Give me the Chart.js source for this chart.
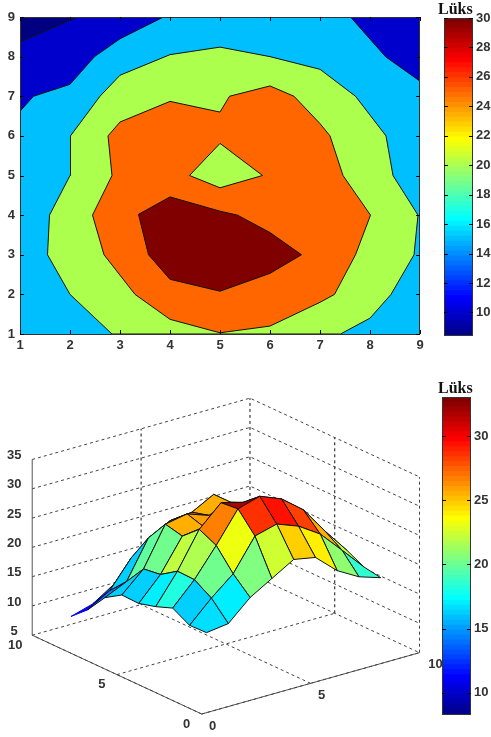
<!DOCTYPE html>
<html>
<head>
<meta charset="utf-8">
<title>Lüks</title>
<script src="https://cdn.jsdelivr.net/npm/chart.js@4"></script>
<style>
	body { margin: 0; background: #fff; }
	canvas { position: absolute; }
</style>
</head>
<body>
<canvas id="contour" width="430" height="355" style="left:0;top:0"></canvas>
<canvas id="surface" width="445" height="362" style="left:0;top:375px"></canvas>
<canvas id="contourBar" width="53" height="346" style="left:438px;top:0"></canvas>
<canvas id="surfaceBar" width="53" height="349" style="left:438px;top:376px"></canvas>
<script>
// contour bands
const fieldX = [1, 9, 9, 1]
const fieldY = [1, 1, 9, 9]
const cornerLeftX = [1, 1, 1.27, 2, 2.49, 3, 3.87]
const cornerLeftY = [9, 6.62, 7, 7.3, 8, 8.45, 9]
const cornerNavyX = [1, 1, 2, 2.15]
const cornerNavyY = [9, 8.37, 8.92, 9]
const cornerRightX = [7.61, 8.31, 9, 9]
const cornerRightY = [9, 8, 7.38, 9]
const band20X = [2.84, 2, 1.55, 1.59, 2, 2.01, 2.6, 3, 4, 5, 6, 7, 7.71, 8.32, 8.46, 8.96, 8.88, 8.42, 8, 7.41]
const band20Y = [1, 2, 3, 4, 5, 6, 7, 7.53, 8.05, 8.24, 8, 7.68, 7, 6, 5, 4, 3, 2, 1.4, 1]
const band25X = [5, 6, 7, 7.29, 7.71, 8.01, 7.46, 7.2, 7, 6.48, 6, 5.19, 5, 4, 3, 2.76, 2.84, 2.45, 2.68, 3.3, 4]
const band25Y = [1.03, 1.2, 1.8, 2, 3, 4, 5, 6, 6.31, 7, 7.26, 7, 6.6, 6.87, 6.35, 6, 5, 4, 3, 2, 1.37]
const holeX = [5, 5.85, 5, 4.39]
const holeY = [5.81, 5, 4.69, 5]
const band30X = [3.37, 4, 5, 5.35, 6, 6.63, 6, 5, 4, 3.57]
const band30Y = [4.02, 4.46, 4.1, 4, 3.56, 3, 2.53, 2.08, 2.38, 3]

// surface heights, one row per y = 1..9, x = 1..9
const luxY1 = [16.5, 17.0, 20.4, 22.6, 24.8, 24.1, 20.8, 18.7, 17.5]
const luxY2 = [16.4, 20.0, 23.1, 28.5, 29.5, 28.1, 25.7, 21.9, 18.0]
const luxY3 = [18.0, 21.8, 26.6, 31.8, 32.9, 31.4, 28.5, 23.8, 19.5]
const luxY4 = [16.9, 21.9, 28.0, 31.5, 30.5, 28.8, 26.9, 25.0, 19.7]
const luxY5 = [16.1, 20.0, 25.5, 26.0, 22.5, 25.4, 26.5, 22.2, 17.5]
const luxY6 = [16.2, 19.6, 26.2, 26.9, 25.6, 26.8, 25.7, 21.5, 17.0]
const luxY7 = [14.4, 16.1, 22.5, 24.4, 24.8, 26.8, 22.9, 18.8, 16.0]
const luxY8 = [11.0, 13.2, 17.8, 20.2, 20.7, 20.0, 18.6, 16.0, 13.0]
const luxY9 = [8.5, 9.6, 12.0, 15.3, 16.5, 16.5, 16.0, 13.8, 11.0]
const surfaceRows = [luxY1, luxY2, luxY3, luxY4, luxY5, luxY6, luxY7, luxY8, luxY9]

const contourTicks = [1, 2, 3, 4, 5, 6, 7, 8, 9]
const contourBarTicks = [10, 12, 14, 16, 18, 20, 22, 24, 26, 28, 30]
const surfaceBarTicks = [10, 15, 20, 25, 30]
const floorTicks = [0, 5, 10]
const heightTicks = [5, 10, 15, 20, 25, 30, 35]
const contourRange = [8.45, 30]
const surfaceRange = [8.34, 33.04]

const colors = {
	field: '#00bfff',
	low: '#0000cd',
	navy: '#000080',
	mid: '#adff4d',
	high: '#ff6600',
	peak: '#800000',
	frame: '#333',
	text: '#333',
	grid: '#444'
}

Chart.defaults.font.family = '"Liberation Sans", Arial, sans-serif'
Chart.defaults.color = colors.text
Chart.defaults.animation = false

function jet(t) {
	const i = Math.min(63, Math.max(0, Math.floor(t * 64))) + 1
	const ramp = (v) => Math.round(255 * Math.max(0, Math.min(1, v)))
	const r = ramp(Math.min((i - 24) / 16, (72 - i) / 16))
	const g = ramp(Math.min((i - 8) / 16, (56 - i) / 16))
	const b = ramp(Math.min((i + 8) / 16, (40 - i) / 16))
	return `rgb(${r},${g},${b})`
}

function toPoints(xs, ys) {
	return xs.map((x, i) => ({x: x, y: ys[i]}))
}

function polygon(xs, ys, color, line) {
	const points = toPoints(xs, ys)
	points.push(points[0])
	return {
		data: points,
		showLine: true,
		fill: 'shape',
		backgroundColor: color,
		borderColor: line ? '#111' : color,
		borderWidth: line ? 1 : 0,
		borderJoinStyle: 'bevel',
		pointRadius: 0,
		tension: 0
	}
}

// box and inward ticks, MATLAB style
function framePlugin(tickLen) {
	return {
		id: 'frame',
		afterDraw(chart) {
			const ctx = chart.ctx
			const a = chart.chartArea
			ctx.save()
			ctx.strokeStyle = colors.frame
			ctx.lineWidth = 1
			ctx.strokeRect(Math.round(a.left) + 0.5, Math.round(a.top) + 0.5, Math.round(a.width) - 1, Math.round(a.height))
			ctx.strokeStyle = '#000'
			ctx.beginPath()
			Object.values(chart.scales).forEach((scale) => {
				if (scale.options.display === false) return
				scale.ticks.forEach((tick) => {
					const p = Math.round(scale.getPixelForValue(tick.value)) + 0.5
					if (scale.axis === 'x') {
						ctx.moveTo(p, a.bottom); ctx.lineTo(p, a.bottom - tickLen)
						ctx.moveTo(p, a.top); ctx.lineTo(p, a.top + tickLen)
					} else {
						ctx.moveTo(a.left, p); ctx.lineTo(a.left + tickLen, p)
						ctx.moveTo(a.right, p); ctx.lineTo(a.right - tickLen, p)
					}
				})
			})
			ctx.stroke()
			ctx.restore()
		}
	}
}

const tickFont = {size: 13, weight: 'bold'}

new Chart('contour', {
	type: 'scatter',
	data: {
		datasets: [
			polygon(holeX, holeY, colors.mid, true),
			polygon(band30X, band30Y, colors.peak, true),
			polygon(band25X, band25Y, colors.high, true),
			polygon(band20X, band20Y, colors.mid, true),
			polygon(cornerNavyX, cornerNavyY, colors.navy, true),
			polygon(cornerLeftX, cornerLeftY, colors.low, true),
			polygon(cornerRightX, cornerRightY, colors.low, true),
			polygon(fieldX, fieldY, colors.field, false)
		]
	},
	options: {
		responsive: false,
		layout: {padding: {top: 17, right: 10}},
		plugins: {legend: {display: false}, tooltip: {enabled: false}},
		scales: {
			x: {
				min: 1, max: 9,
				grid: {display: false, drawTicks: false},
				border: {display: false},
				afterBuildTicks: (s) => { s.ticks = contourTicks.map((v) => ({value: v})) },
				afterFit: (s) => { s.height = 21 },
				ticks: {font: tickFont, padding: 4, maxRotation: 0}
			},
			y: {
				min: 1, max: 9,
				grid: {display: false, drawTicks: false},
				border: {display: false},
				afterBuildTicks: (s) => { s.ticks = contourTicks.map((v) => ({value: v})) },
				afterFit: (s) => { s.width = 20 },
				ticks: {font: tickFont, padding: 5}
			}
		}
	},
	plugins: [framePlugin(4)]
})

function colorbar(id, range, tickValues, left, width, titleTop, labelPad) {
	const datasets = []
	for (let i = 0; i < 64; i++) {
		datasets.push({
			yAxisID: 'y',
			data: [[range[0], range[0] + (range[1] - range[0]) * (i + 1) / 64]],
			backgroundColor: jet((i + 0.5) / 64),
			borderWidth: 0,
			barPercentage: 1,
			categoryPercentage: 1,
			grouped: false
		})
	}
	new Chart(id, {
		type: 'bar',
		data: {labels: [''], datasets: datasets},
		options: {
			responsive: false,
			layout: {padding: {bottom: 8}},
			plugins: {
				legend: {display: false},
				tooltip: {enabled: false},
				title: {
					display: true,
					text: 'Lüks',
					color: '#111',
					align: 'start',
					padding: {top: titleTop, bottom: 0},
					font: {family: '"Liberation Serif", serif', size: 16, weight: 'bold', lineHeight: 1}
				}
			},
			scales: {
				x: {display: false},
				// empty axis, only pushes the bar right of the title start
				spacer: {
					position: 'left',
					min: 0, max: 1,
					grid: {display: false, drawTicks: false},
					border: {display: false},
					ticks: {display: false},
					afterBuildTicks: (s) => { s.ticks = [] },
					afterFit: (s) => { s.width = left }
				},
				y: {
					position: 'right',
					min: range[0], max: range[1],
					grid: {display: false, drawTicks: false},
					border: {display: false},
					afterBuildTicks: (s) => { s.ticks = tickValues.map((v) => ({value: v})) },
					afterFit: (s) => { s.width = width },
					ticks: {font: tickFont, padding: labelPad}
				}
			}
		},
		plugins: [framePlugin(4)]
	})
}

colorbar('contourBar', contourRange, contourBarTicks, 6, 18, 2, 3)

// orthographic view of the box
const azimuth = 37.9 * Math.PI / 180
const elevation = 21.2 * Math.PI / 180
const heightScale = 0.2122

function project(x, y, z) {
	return {
		x: x * Math.cos(azimuth) - y * Math.sin(azimuth),
		y: (x * Math.sin(azimuth) + y * Math.cos(azimuth)) * Math.sin(elevation) + (z - 5) * heightScale
	}
}

function path3d(corners, color, dash, width) {
	return {
		data: corners.map((c) => project(c[0], c[1], c[2])),
		showLine: true,
		fill: false,
		borderColor: color,
		borderWidth: width,
		borderDash: dash,
		pointRadius: 0,
		tension: 0
	}
}

function surfacePatches() {
	const patches = []
	// nearest corner first, the first dataset is painted last
	for (let sum = 0; sum <= 14; sum++) {
		for (let j = 0; j < 8; j++) {
			const i = sum - j
			if (i < 0 || i > 7) continue
			const corners = [[i, j], [i + 1, j], [i + 1, j + 1], [i, j + 1], [i, j]]
			const pts = corners.map((c) => project(c[0] + 1, c[1] + 1, surfaceRows[c[1]][c[0]]))
			const value = surfaceRows[j][i]
			const fillColor = jet((value - surfaceRange[0]) / (surfaceRange[1] - surfaceRange[0]))
			patches.push({
				data: pts,
				showLine: true,
				fill: 'shape',
				backgroundColor: fillColor,
				// the thin spike at the low corner would be all edge otherwise
				borderColor: value < 12 ? fillColor : '#111',
				borderWidth: 1,
				borderJoinStyle: 'bevel',
				pointRadius: 0,
				tension: 0
			})
		}
	}
	return patches
}

function boxLines() {
	const lines = []
	const dash = [3, 3]
	heightTicks.forEach((z) => {
		lines.push(path3d([[0, 10, z], [10, 10, z], [10, 0, z]], colors.grid, dash, 1))
	})
	floorTicks.forEach((v) => {
		if (v < 10) {
			lines.push(path3d([[v, 0, 5], [v, 10, 5]], colors.grid, dash, 1))
			lines.push(path3d([[0, v, 5], [10, v, 5]], colors.grid, dash, 1))
		}
		if (v > 0) {
			lines.push(path3d([[v, 10, 5], [v, 10, 35]], '#111', dash, 1))
			if (v < 10) lines.push(path3d([[10, v, 5], [10, v, 35]], '#111', dash, 1))
		}
	})
	lines.push(path3d([[10, 0, 5], [10, 0, 35]], colors.grid, dash, 1))
	lines.push(path3d([[0, 10, 5], [0, 0, 5], [10, 0, 5]], '#555', [], 1))
	lines.push(path3d([[0, 10, 5], [0, 10, 35]], '#555', [], 1))
	return lines
}

const surfaceLabels = {
	id: 'surfaceLabels',
	afterDraw(chart) {
		const ctx = chart.ctx
		const sx = chart.scales.x
		const sy = chart.scales.y
		const at = (x, y, z) => {
			const p = project(x, y, z)
			return [sx.getPixelForValue(p.x), sy.getPixelForValue(p.y)]
		}
		ctx.save()
		ctx.fillStyle = colors.text
		ctx.font = 'bold 13px "Liberation Sans", Arial, sans-serif'
		ctx.textAlign = 'center'
		ctx.textBaseline = 'middle'
		heightTicks.forEach((z) => {
			const p = at(0, 10, z)
			ctx.fillText(z, p[0] - 18, p[1] - 4)
		})
		floorTicks.forEach((v) => {
			const px = at(v, 0, 5)
			ctx.fillText(v, px[0] + (v === 10 ? 16 : 11), px[1] + 12)
			const py = at(0, v, 5)
			ctx.fillText(v, py[0] - (v === 10 ? 17 : 15), py[1] + 10)
		})
		ctx.restore()
	}
}

new Chart('surface', {
	type: 'scatter',
	data: {datasets: surfacePatches().concat(boxLines())},
	options: {
		responsive: false,
		plugins: {legend: {display: false}, tooltip: {enabled: false}},
		scales: {
			x: {display: false, min: -7.31, max: 8.815},
			y: {display: false, min: -0.833, max: 12.28}
		}
	},
	plugins: [surfaceLabels]
})

colorbar('surfaceBar', surfaceRange, surfaceBarTicks, 4, 20, 5, 3)
</script>
</body>
</html>
